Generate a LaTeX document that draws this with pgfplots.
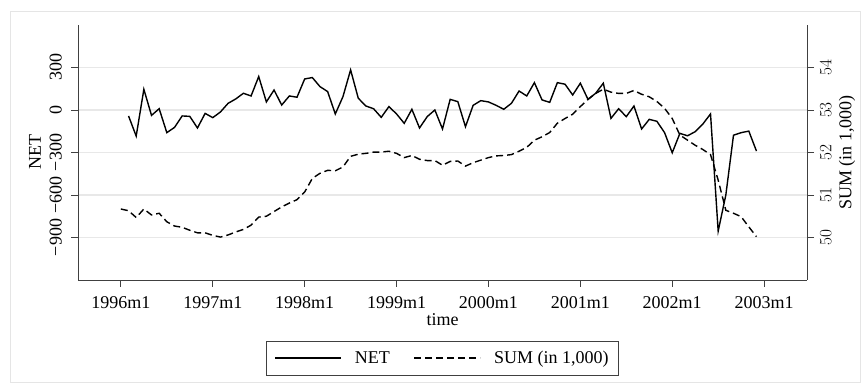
\documentclass[border=0pt]{standalone}
\usepackage{fontspec}
\setmainfont{Liberation Serif}
\usepackage{pgfplots}
\pgfplotsset{compat=1.18}

\definecolor{axisgray}{gray}{0.25}
\definecolor{gridgray}{gray}{0.91}
\definecolor{framegray}{gray}{0.90}

% month index: 0 = 1996m1
\pgfplotstableread{
t net
1 -42
2 -184
3 146
4 -38
5 9
6 -160
7 -123
8 -42
9 -45
10 -127
11 -24
12 -54
13 -14
14 47
15 78
16 118
17 99
18 236
19 57
20 141
21 35
22 99
23 90
24 219
25 229
26 165
27 130
28 -28
29 94
30 283
31 83
32 28
33 9
34 -52
35 24
36 -28
37 -94
38 5
39 -127
40 -47
41 0
42 -134
43 75
44 59
45 -118
46 33
47 66
48 57
49 33
50 5
51 47
52 134
53 99
54 193
55 71
56 54
57 193
58 182
59 106
60 189
61 75
62 118
63 189
64 -59
65 9
66 -47
67 28
68 -134
69 -66
70 -80
71 -160
72 -302
73 -165
74 -182
75 -153
76 -99
77 -28
78 -855
79 -600
80 -178
81 -160
82 -149
83 -290
}\nettable

\pgfplotstableread{
t sum
0 50.67
1 50.63
2 50.47
3 50.67
4 50.53
5 50.57
6 50.37
7 50.27
8 50.24
9 50.17
10 50.11
11 50.11
12 50.05
13 50.01
14 50.06
15 50.13
16 50.19
17 50.29
18 50.48
19 50.50
20 50.61
21 50.72
22 50.81
23 50.89
24 51.07
25 51.39
26 51.51
27 51.58
28 51.57
29 51.66
30 51.91
31 51.96
32 51.98
33 52.01
34 52.01
35 52.03
36 51.98
37 51.88
38 51.93
39 51.84
40 51.81
41 51.81
42 51.70
43 51.79
44 51.80
45 51.68
46 51.76
47 51.82
48 51.88
49 51.92
50 51.93
51 51.95
52 52.03
53 52.12
54 52.29
55 52.37
56 52.47
57 52.69
58 52.80
59 52.90
60 53.08
61 53.25
62 53.39
63 53.49
64 53.42
65 53.39
66 53.39
67 53.46
68 53.37
69 53.31
70 53.20
71 53.04
72 52.80
73 52.41
74 52.29
75 52.17
76 52.07
77 51.95
78 51.35
79 50.64
80 50.57
81 50.49
82 50.25
83 50.02
}\sumtable

\pgfplotsset{
  stataaxis/.style={
    scale only axis, width=729pt, height=255pt,
    at={(78pt,107pt)}, anchor=south west,
    xmin=-5.6, xmax=89.6,
    tick align=outside, major tick length=7pt,
    every tick/.style={axisgray, line width=0.8pt},
    axis line style={axisgray, line width=0.8pt},
    ticklabel style={font=\fontsize{18}{21}\selectfont, inner sep=0pt},
    label style={font=\fontsize{18}{21}\selectfont},
  }
}

\begin{document}
\begin{tikzpicture}[x=1pt,y=1pt]
\path[use as bounding box] (0,0) rectangle (863,387);
\draw[framegray, line width=0.8pt] (10,5) rectangle (860,376);

\begin{axis}[stataaxis,
  axis x line*=bottom, axis y line*=left,
  ymin=-1200, ymax=600,
  ytick={-900,-600,-300,0,300},
  yticklabels={−900,−600,−300,0,300},
  yticklabel style={rotate=90, anchor=south},
  yticklabel shift=9pt,
  ymajorgrids, grid style={gridgray, line width=1.2pt},
  xtick={0,12,...,84},
  xticklabels={1996m1,1997m1,1998m1,1999m1,2000m1,2001m1,2002m1,2003m1},
  xticklabel style={anchor=north},
  xticklabel shift=9pt,
  xlabel={time},
  xlabel style={at={(axis description cs:0.5,-0.157)}, anchor=center},
  ylabel={NET},
  ylabel style={at={(axis description cs:-0.059,0.5)}, anchor=center, rotate=0},
]
\addplot[black, line width=1.4pt] table[x=t, y=net] {\nettable};
\end{axis}

\begin{axis}[stataaxis,
  axis x line=none, axis y line*=right,
  xtick=\empty,
  ymin=49, ymax=55,
  ytick={50,51,52,53,54},
  yticklabel style={rotate=90, anchor=north},
  yticklabel shift=6pt,
  ylabel={SUM (in 1,000)},
  ylabel style={at={(axis description cs:1.0549,0.5)}, anchor=center},
  legend style={at={(0.5,-0.238)}, anchor=north, legend columns=-1,
    draw=axisgray, line width=0.8pt, inner xsep=8pt, inner ysep=8pt,
    font=\fontsize{18}{21}\selectfont,
    /tikz/every odd column/.append style={column sep=11pt},
    /tikz/every even column/.append style={column sep=22pt}},
  legend image code/.code={\draw[#1] (0pt,0pt) -- (66pt,0pt);},
]
\addlegendimage{black, line width=1.4pt}
\addlegendentry{NET}
\addplot[black, line width=1.4pt, dash pattern=on 7pt off 4pt] table[x=t, y=sum] {\sumtable};
\addlegendentry{SUM (in 1,000)}
\end{axis}
\end{tikzpicture}
\end{document}
